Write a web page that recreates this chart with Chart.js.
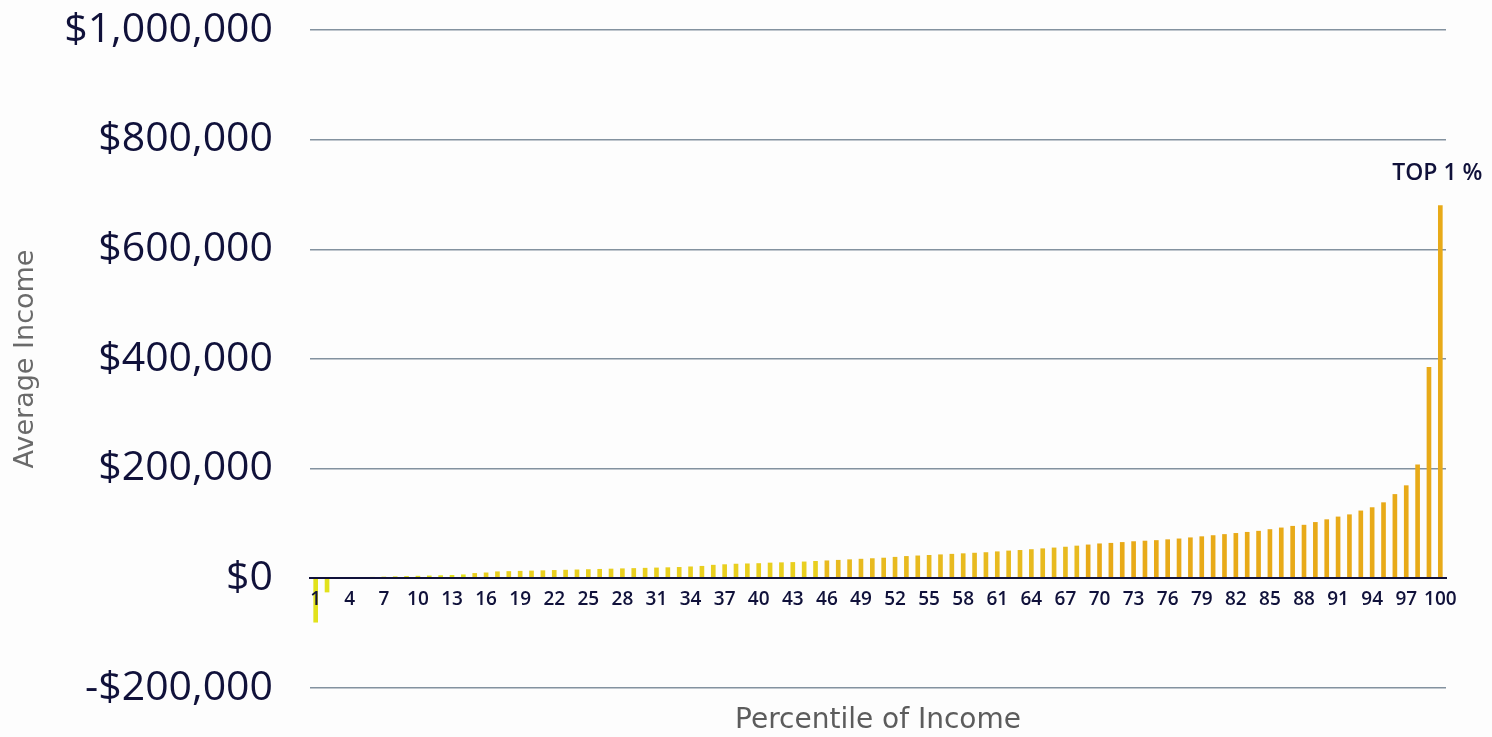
<!DOCTYPE html>
<html>
<head>
<meta charset="utf-8">
<script src="https://cdn.jsdelivr.net/npm/chart.js@4.4.1/dist/chart.umd.min.js"></script>
<style>
  html, body { margin: 0; padding: 0; background: #fdfdfd; }
  #wrap { position: relative; width: 1492px; height: 737px; }
</style>
</head>
<body>
<div id="wrap"><canvas id="c" width="1492" height="737"></canvas></div>
<script>
// Percentile categories
const percentiles = [
  1,2,3,4,5,6,7,8,9,10,11,12,13,14,15,16,17,18,19,20,
  21,22,23,24,25,26,27,28,29,30,31,32,33,34,35,36,37,38,39,40,
  41,42,43,44,45,46,47,48,49,50,51,52,53,54,55,56,57,58,59,60,
  61,62,63,64,65,66,67,68,69,70,71,72,73,74,75,76,77,78,79,80,
  81,82,83,84,85,86,87,88,89,90,91,92,93,94,95,96,97,98,99,100
];
// Average income per percentile (USD)
const averageIncome = [
  -80000, -25000, 500, 1000, 1500, 2000, 2500, 3000, 3500, 4000,
  4500, 5000, 5500, 6500, 9000, 10000, 12000, 12500, 13000, 13500,
  14000, 14500, 15000, 15500, 16000, 16500, 17000, 17500, 18000, 18500,
  19000, 19500, 20000, 21000, 22000, 24000, 25000, 26000, 26500, 27000,
  28000, 28500, 29000, 30000, 31000, 32000, 33000, 34000, 35000, 36000,
  37000, 38500, 40000, 41000, 42000, 43000, 44000, 45000, 46000, 47000,
  48500, 50000, 51000, 52500, 54000, 55500, 57000, 59000, 61000, 63000,
  64000, 65500, 67000, 68000, 69000, 70500, 72000, 74000, 76000, 78000,
  80000, 82000, 84000, 86000, 89000, 92000, 95000, 97000, 102000, 107000,
  112000, 116000, 123000, 129000, 138000, 153000, 169000, 207000, 385000, 680000
];
const yTicks = [-200000, 0, 200000, 400000, 600000, 800000, 1000000];
const topLabel = 'TOP 1 %';
const xTitle = 'Percentile of Income';
const yTitle = 'Average Income';

const navy = '#10113a';

function barColor(i) {
  if (i < 14) return '#e2e21c';
  if (i < 45) return '#e9cf1f';
  if (i < 68) return '#e8ba1f';
  return '#e8aa18';
}

const extras = {
  id: 'extras',
  afterDraw(chart) {
    const ctx = chart.ctx;
    const meta = chart.getDatasetMeta(0);
    const last = meta.data[meta.data.length - 1];
    ctx.save();
    ctx.fillStyle = navy;
    ctx.font = '600 23px "Open Sans", sans-serif';
    ctx.textAlign = 'center';
    ctx.textBaseline = 'middle';
    ctx.fillText(topLabel, last.x - 3, last.y - 32);
    const ca = chart.chartArea;
    ctx.fillStyle = '#5c5c5c';
    ctx.font = '400 28px "DejaVu Sans", sans-serif';
    ctx.fillText(xTitle, (ca.left + ca.right) / 2, 721);
    ctx.restore();
  }
};

new Chart(document.getElementById('c'), {
  type: 'bar',
  data: {
    labels: percentiles,
    datasets: [{
      data: averageIncome,
      backgroundColor: averageIncome.map((v, i) => barColor(i)),
      barThickness: 4,
      borderWidth: 0
    }]
  },
  options: {
    responsive: false,
    animation: false,
    layout: { padding: { top: 30, right: 46, bottom: 49, left: 0 } },
    plugins: { legend: { display: false }, tooltip: { enabled: false } },
    scales: {
      x: {
        position: { y: 0 },
        afterFit: (s) => { s.height = 0; },
        grid: { display: false, drawTicks: false },
        border: { display: true, color: navy, width: 2, z: 1 },
        ticks: {
          z: 1,
          autoSkip: false,
          maxRotation: 0,
          minRotation: 0,
          padding: 10,
          color: navy,
          font: { family: '"Open Sans", sans-serif', size: 19, weight: '600' },
          callback: (v, i) => (i % 3 === 0 ? String(percentiles[i]) : '')
        }
      },
      y: {
        min: -200000,
        max: 1000000,
        afterBuildTicks: (s) => { s.ticks = yTicks.map(v => ({ value: v })); },
        afterFit: (s) => { s.width = 310; s.paddingTop = 0; s.paddingBottom = 0; },
        border: { display: false },
        grid: {
          drawTicks: false,
          lineWidth: 1.5,
          color: (c) => (c.tick && c.tick.value === 0 ? 'rgba(0,0,0,0)' : '#83929f')
        },
        ticks: {
          padding: 37,
          color: navy,
          font: { family: '"Open Sans", sans-serif', size: 41, weight: '500' },
          callback: (v) => (v < 0 ? '-$' : '$') + Math.abs(v).toLocaleString('en-US')
        },
        title: {
          display: true,
          text: yTitle,
          color: '#6a6a6a',
          padding: { top: 10, bottom: 0 },
          font: { family: '"DejaVu Sans", sans-serif', size: 27, weight: '400' }
        }
      }
    }
  },
  plugins: [extras]
});
</script>
</body>
</html>
